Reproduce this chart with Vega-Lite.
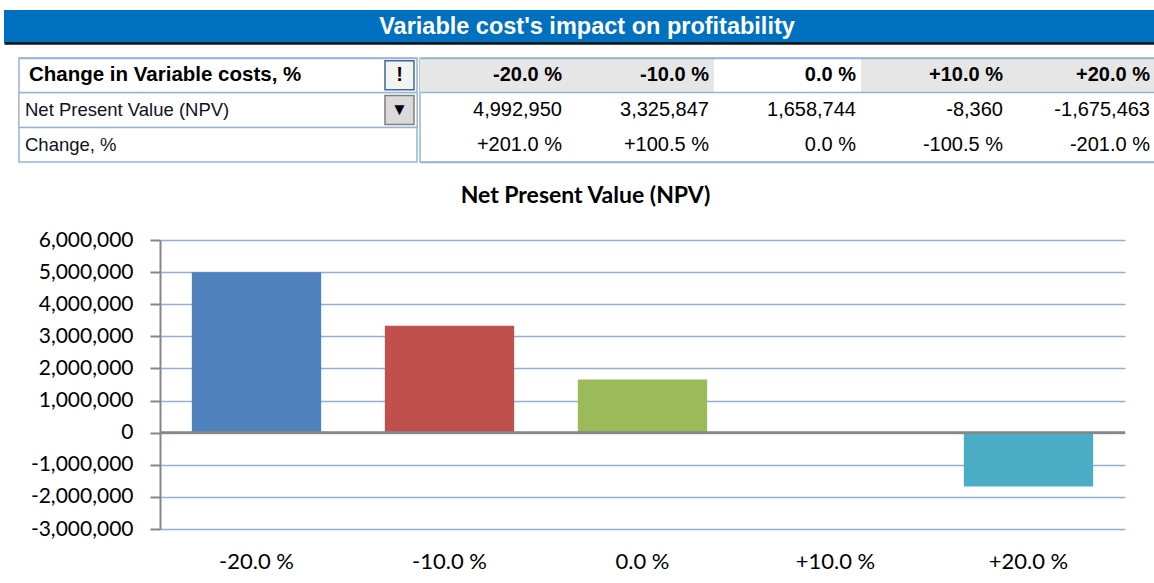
{
  "$schema": "https://vega.github.io/schema/vega-lite/v6.json",
  "padding": {"left": 4, "top": 10, "right": 0, "bottom": 0},
  "background": "white",
  "spacing": 0,
  "config": {
    "view": {"stroke": null},
    "concat": {"spacing": 0},
    "font": "Liberation Sans",
    "locale": {"number": {"decimal": ".", "thousands": ",", "grouping": [3], "currency": ["$", ""], "minus": "-"}}
  },
  "datasets": {
    "blank": [{"t": ""}],
    "title": [{"text": "Variable cost's impact on profitability"}],
    "labels": [
      {"row": "hdr", "text": "Change in Variable costs, %", "btn": "!"},
      {"row": "npv", "text": "Net Present Value (NPV)", "btn": "▼"},
      {"row": "chg", "text": "Change, %", "btn": ""}
    ],
    "scen": [
      {"col": "-20.0 %", "npv": 4992950, "chg": "+201.0 %"},
      {"col": "-10.0 %", "npv": 3325847, "chg": "+100.5 %"},
      {"col": "0.0 %", "npv": 1658744, "chg": "0.0 %"},
      {"col": "+10.0 %", "npv": -8360, "chg": "-100.5 %"},
      {"col": "+20.0 %", "npv": -1675463, "chg": "-201.0 %"}
    ]
  },
  "vconcat": [
    {
      "width": 1150,
      "height": 33,
      "data": {"name": "title"},
      "view": {"fill": "#0070C0", "stroke": null},
      "mark": {"type": "text", "font": "Liberation Sans", "fontSize": 23.5, "fontWeight": "bold", "color": "white", "baseline": "middle", "dx": 8},
      "encoding": {
        "x": {"field": "text", "type": "nominal", "scale": {"type": "band", "paddingInner": 0, "paddingOuter": 0},
          "axis": {"labels": false, "ticks": false, "domain": true, "domainColor": "#111111", "domainWidth": 2.5, "grid": false, "title": null, "minExtent": 14}},
        "text": {"field": "text"}
      }
    },
    {
      "spacing": 0,
      "hconcat": [
        {
          "width": 13,
          "height": 104,
          "data": {"name": "blank"},
          "mark": {"type": "text"},
          "encoding": {"text": {"field": "t"}}
        },
        {
          "width": 398,
          "height": 104,
          "view": {"stroke": "#95B3D7", "strokeWidth": 1.5},
          "data": {"name": "labels"},
          "encoding": {
            "y": {"field": "row", "type": "nominal", "sort": ["hdr", "npv", "chg"],
              "scale": {"domain": ["hdr", "npv", "chg"], "paddingInner": 0, "paddingOuter": 0},
              "axis": {"labels": false, "ticks": false, "domain": false, "grid": true, "gridColor": "#95B3D7", "gridWidth": 1.5, "bandPosition": 0, "title": null}}
          },
          "layer": [
            {
              "transform": [{"filter": "datum.row === 'npv'"}],
              "mark": {"type": "rect", "fill": "white", "stroke": "#A6A6A6", "strokeWidth": 1}
            },
            {
              "transform": [{"filter": "datum.row === 'hdr'"}],
              "mark": {"type": "text", "align": "left", "baseline": "middle", "dx": 10, "fontSize": 20.5, "fontWeight": "bold", "color": "black"},
              "encoding": {
                "x": {"datum": "lbl", "type": "nominal", "scale": {"type": "point", "domain": ["lbl", "btn"], "padding": 0.023, "align": 0}, "axis": null},
                "text": {"field": "text"}
              }
            },
            {
              "transform": [{"filter": "datum.row !== 'hdr'"}],
              "mark": {"type": "text", "align": "left", "baseline": "middle", "dx": 6, "fontSize": 18.5, "color": "#111122"},
              "encoding": {
                "x": {"datum": "lbl", "type": "nominal", "scale": {"type": "point", "domain": ["lbl", "btn"], "padding": 0.023, "align": 0}, "axis": null},
                "text": {"field": "text"}
              }
            },
            {
              "transform": [{"filter": "datum.btn !== ''"}],
              "mark": {"type": "point", "shape": "square", "size": 841, "filled": true, "strokeWidth": 1.5, "opacity": 1},
              "encoding": {
                "x": {"datum": "btn", "type": "nominal", "scale": {"type": "point", "domain": ["lbl", "btn"], "padding": 0.023, "align": 0}, "axis": null},
                "fill": {"condition": {"test": "datum.btn === '!'", "value": "#F3F3EF"}, "value": "#DADADA"},
                "stroke": {"condition": {"test": "datum.btn === '!'", "value": "#3D6A9E"}, "value": "#7F7F7F"}
              }
            },
            {
              "transform": [{"filter": "datum.btn !== ''"}],
              "mark": {"type": "text", "align": "center", "baseline": "middle", "fontWeight": "bold", "color": "black"},
              "encoding": {
                "x": {"datum": "btn", "type": "nominal", "scale": {"type": "point", "domain": ["lbl", "btn"], "padding": 0.023, "align": 0}, "axis": null},
                "text": {"field": "btn"},
                "size": {"condition": {"test": "datum.btn === '!'", "value": 20}, "value": 17}
              }
            }
          ]
        },
        {
          "width": 735,
          "height": 104,
          "view": {"stroke": "#95B3D7", "strokeWidth": 1.5},
          "data": {"name": "scen"},
          "encoding": {
            "x": {"field": "col", "type": "nominal", "sort": null, "scale": {"type": "band", "paddingInner": 0, "paddingOuter": 0},
              "axis": {"orient": "bottom", "labels": false, "ticks": false, "domain": true, "domainColor": "#95B3D7", "domainWidth": 1.5, "grid": false, "title": null, "minExtent": 22}}
          },
          "layer": [
            {
              "mark": {"type": "rect"},
              "encoding": {
                "y": {"datum": "hdr", "type": "nominal", "scale": {"domain": ["hdr", "npv", "chg"], "paddingInner": 0, "paddingOuter": 0},
                  "axis": {"labels": false, "ticks": false, "domain": false, "grid": true, "gridColor": "#95B3D7", "gridWidth": 1.5, "bandPosition": 0, "values": ["hdr", "npv"], "title": null, "zindex": 1}},
                "fill": {"condition": {"test": "datum.col !== '0.0 %'", "value": "#E6E6E6"}, "value": "white"}
              }
            },
            {
              "mark": {"type": "text", "align": "right", "baseline": "middle", "dx": -5, "fontSize": 20, "fontWeight": "bold", "color": "black"},
              "encoding": {
                "x": {"field": "col", "type": "nominal", "sort": null, "bandPosition": 1},
                "y": {"datum": "hdr", "type": "nominal"},
                "text": {"field": "col"}
              }
            },
            {
              "mark": {"type": "text", "align": "right", "baseline": "middle", "dx": -5, "fontSize": 20, "color": "black"},
              "encoding": {
                "x": {"field": "col", "type": "nominal", "sort": null, "bandPosition": 1},
                "y": {"datum": "npv", "type": "nominal"},
                "text": {"field": "npv", "type": "quantitative", "format": ","}
              }
            },
            {
              "mark": {"type": "text", "align": "right", "baseline": "middle", "dx": -5, "fontSize": 20, "color": "black"},
              "encoding": {
                "x": {"field": "col", "type": "nominal", "sort": null, "bandPosition": 1},
                "y": {"datum": "chg", "type": "nominal"},
                "text": {"field": "chg"}
              }
            }
          ]
        }
      ]
    },
    {
      "spacing": 0,
      "hconcat": [
        {
          "width": 1,
          "height": 289,
          "data": {"name": "blank"},
          "mark": {"type": "text"},
          "encoding": {"text": {"field": "t"}}
        },
        {
          "width": 965,
          "height": 289,
          "data": {"name": "scen"},
          "title": {"text": "Net Present Value (NPV)", "font": "Lato", "fontSize": 23, "fontWeight": "bold", "color": "black", "offset": 21, "dx": -57, "anchor": "middle"},
          "layer": [
            {
              "mark": {"type": "bar"},
              "encoding": {
                "x": {"field": "col", "type": "nominal", "sort": null, "scale": {"paddingInner": 0.33, "paddingOuter": 0.165},
                  "axis": {"title": null, "labelAngle": 0, "labelFont": "Lato", "labelFontSize": 22, "labelColor": "black", "ticks": false, "domain": false, "labelPadding": 22, "grid": false}},
                "y": {"field": "npv", "type": "quantitative", "scale": {"domain": [-3000000, 6000000], "nice": false, "zero": false},
                  "axis": {"title": null, "values": [-3000000, -2000000, -1000000, 0, 1000000, 2000000, 3000000, 4000000, 5000000, 6000000], "tickCount": 12,
                    "labelExpr": "format(datum.value, ',')", "labelOverlap": false,
                    "labelFont": "Lato", "labelFontSize": 21, "labelColor": "black", "labelPadding": 17,
                    "tickColor": "#868686", "tickSize": 10, "tickWidth": 2, "domainColor": "#868686", "domainWidth": 2,
                    "grid": true, "gridColor": "#94AFCF", "gridWidth": 1.5, "minExtent": 155}},
                "color": {"field": "col", "type": "nominal", "sort": null,
                  "scale": {"domain": ["-20.0 %", "-10.0 %", "0.0 %", "+10.0 %", "+20.0 %"], "range": ["#4F81BD", "#C0504D", "#9BBB59", "#8064A2", "#4BACC6"]},
                  "legend": null}
              }
            },
            {
              "mark": {"type": "rule", "color": "#868686", "strokeWidth": 2},
              "encoding": {"y": {"datum": 0}}
            }
          ]
        }
      ]
    }
  ]
}
